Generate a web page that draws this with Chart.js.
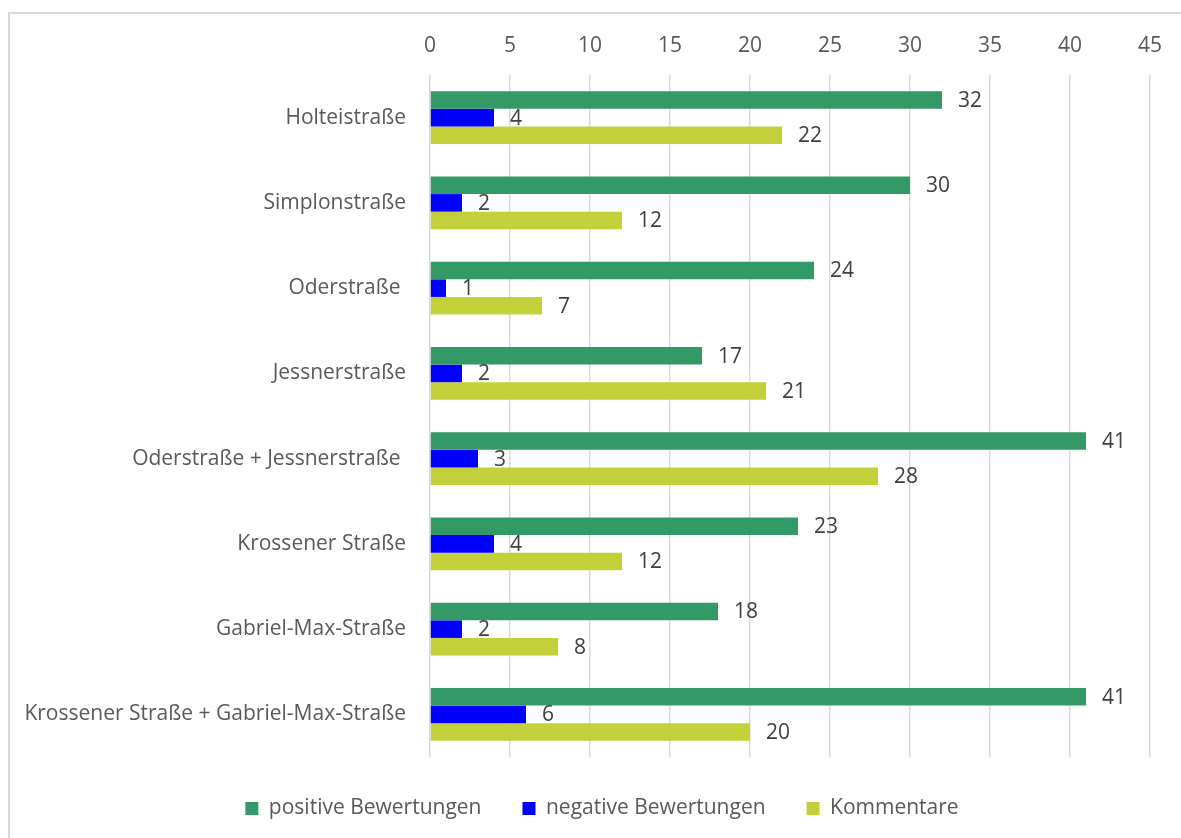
<!DOCTYPE html>
<html>
<head>
<meta charset="utf-8">
<script src="https://cdn.jsdelivr.net/npm/chart.js@4"></script>
<style>
    html, body { margin: 0; padding: 0; background: #fff; overflow: hidden; }
    #frame {
        position: absolute; left: 8px; top: 12px;
        width: 1200px; height: 900px;
        border: 2px solid #d9d9d9;
    }
    #wrap { position: absolute; left: 0; top: 0; width: 1181px; height: 838px; }
</style>
</head>
<body>
<div id="frame"></div>
<div id="wrap"><canvas id="chart-streets"></canvas></div>
<script>

const streets = [
    'Holteistraße',
    'Simplonstraße',
    'Oderstraße ',
    'Jessnerstraße',
    'Oderstraße + Jessnerstraße ',
    'Krossener Straße',
    'Gabriel-Max-Straße',
    'Krossener Straße + Gabriel-Max-Straße'
]

const positive = [32, 30, 24, 17, 41, 23, 18, 41]
const negative = [4, 2, 1, 2, 3, 4, 2, 6]
const comments = [22, 12, 7, 21, 28, 12, 8, 20]

const fontFamily = '"Open Sans", sans-serif'

// values next to the end of each bar
const barValues = {
    id: 'barValues',
    afterDatasetsDraw(chart) {
        const ctx = chart.ctx
        ctx.save()
        ctx.font = '21px ' + fontFamily
        ctx.fillStyle = '#404040'
        ctx.textAlign = 'left'
        ctx.textBaseline = 'middle'
        chart.data.datasets.forEach((ds, i) => {
            chart.getDatasetMeta(i).data.forEach((bar, j) => {
                ctx.fillText(ds.data[j], bar.x + 16, bar.y + 1)
            })
        })
        ctx.restore()
    }
}

// legend is centred on the whole frame, not only on the plot
const legendShift = {
    id: 'legendShift',
    afterLayout(chart) {
        chart.legend.left += 27
        chart.legend.right += 27
    }
}

const data = {
    labels: streets,
    datasets: [{
        label: 'positive Bewertungen',
        data: positive,
        backgroundColor: 'rgb(51, 153, 102)'
    }, {
        label: 'negative Bewertungen',
        data: negative,
        backgroundColor: 'rgb(0, 0, 255)'
    }, {
        label: 'Kommentare',
        data: comments,
        backgroundColor: 'rgb(196, 208, 58)'
    }]
}

const configStreets = new Chart(
    document.getElementById('chart-streets'), {
    type: 'bar',
    data: data,
    plugins: [barValues, legendShift],
    options: {
        indexAxis: 'y',
        responsive: true,
        maintainAspectRatio: false,
        animation: false,
        categoryPercentage: 0.62,
        barPercentage: 1,
        layout: {
            padding: { left: 0, right: 31, top: 0, bottom: 9 }
        },
        scales: {
            x: {
                position: 'top',
                min: 0,
                max: 45,
                ticks: {
                    stepSize: 5,
                    color: '#595959',
                    padding: 16,
                    font: { family: fontFamily, size: 21 }
                },
                grid: {
                    color: '#d9d9d9',
                    lineWidth: 1.5,
                    drawTicks: false
                },
                border: { display: false },
                afterFit(scale) { scale.height = 75 }
            },
            y: {
                ticks: {
                    color: '#595959',
                    padding: 24,
                    font: { family: fontFamily, size: 21 }
                },
                grid: { display: false, drawTicks: false },
                border: { display: false },
                afterFit(scale) { scale.width = 430 }
            }
        },
        plugins: {
            legend: {
                position: 'bottom',
                labels: {
                    boxWidth: 13,
                    boxHeight: 13,
                    padding: 41,
                    color: '#595959',
                    font: { family: fontFamily, size: 21 }
                }
            },
            tooltip: { enabled: false }
        }
    }
})
</script>
</body>
</html>
